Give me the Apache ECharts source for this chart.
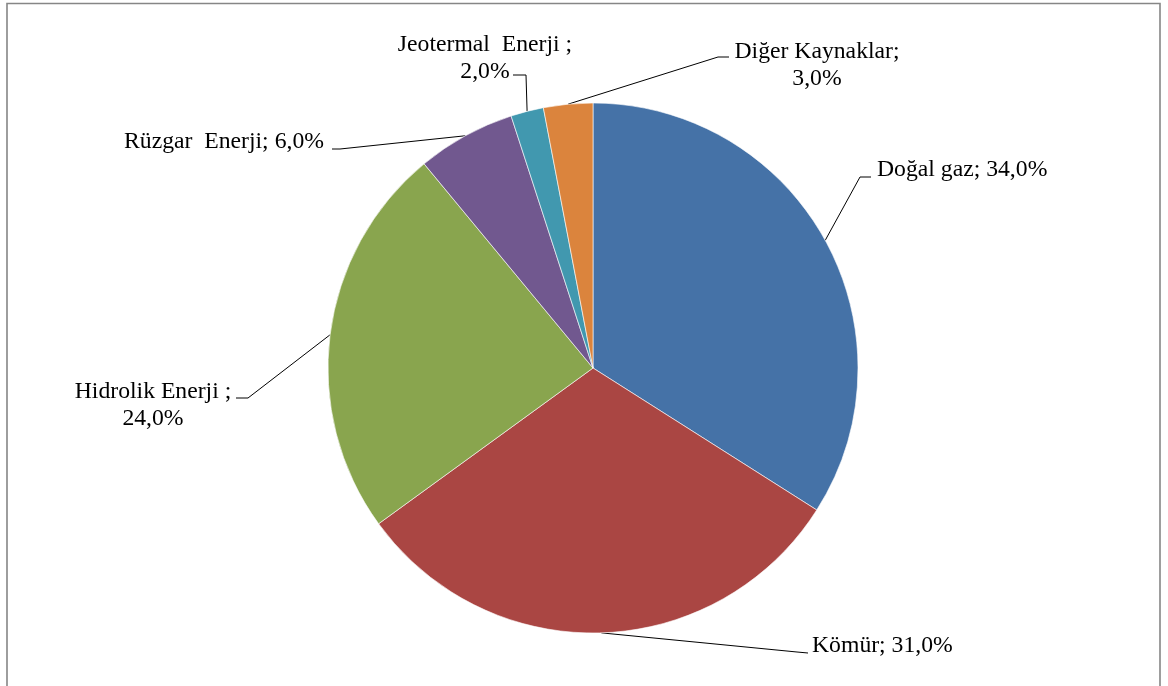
<!DOCTYPE html>
<html>
<head>
<meta charset="utf-8">
<script src="https://cdn.jsdelivr.net/npm/echarts@6/dist/echarts.min.js"></script>
<style>
  html, body { margin: 0; padding: 0; background: #ffffff; }
  #chart { width: 1168px; height: 686px; }
</style>
</head>
<body>
<div id="chart"></div>
<script>
// Electricity generation by source (share, %)
const categories = ['Doğal gaz', 'Kömür', 'Hidrolik Enerji ', 'Rüzgar  Enerji', 'Jeotermal  Enerji ', 'Diğer Kaynaklar'];
const values = [34.0, 31.0, 24.0, 6.0, 2.0, 3.0];
const separators = [' ', ' ', '\n', ' ', '\n', '\n'];
const colors = ['#4572A7', '#AA4643', '#89A54E', '#71588F', '#4198AF', '#DB843D'];

// Label anchor positions and leader-line elbows: [x, y, align, elbow, lineEnd]
const labelPlaces = [
  [877, 170, 'left',   [860, 177], [871, 177]],
  [812, 646, 'left',   [797, 652], [808, 653]],
  [153, 405, 'center', [248, 398], [236, 398]],
  [124, 142, 'left',   [340, 149], [332, 149]],
  [485, 58,  'center', [526, 75],  [513, 75]],
  [817, 65,  'center', [718, 57],  [729, 57]]
];

const fmt = v => v.toFixed(1).replace('.', ',') + '%';

const chart = echarts.init(document.getElementById('chart'), null, { renderer: 'canvas' });

chart.setOption({
  backgroundColor: '#ffffff',
  animation: false,
  graphic: [{
    type: 'rect',
    shape: { x: 7, y: 3.5, width: 1153, height: 720 },
    style: { fill: 'none', stroke: '#868686', lineWidth: 1.6 },
    silent: true,
    z: 0
  }],
  series: [{
    type: 'pie',
    center: [593, 368],
    radius: 265,
    startAngle: 90,
    clockwise: true,
    silent: true,
    data: categories.map((name, i) => ({
      name: name,
      value: values[i],
      itemStyle: { color: colors[i] }
    })),
    itemStyle: { borderColor: '#ffffff', borderWidth: 0.6 },
    label: {
      show: true,
      position: 'outside',
      fontFamily: '"Liberation Serif", "Times New Roman", serif',
      fontSize: 23.7,
      lineHeight: 27,
      color: '#000000',
      formatter: p => p.name + ';' + separators[p.dataIndex] + fmt(p.value)
    },
    labelLine: {
      show: true,
      length: 20,
      length2: 10,
      lineStyle: { color: '#000000', width: 1 }
    },
    labelLayout: function (params) {
      const lp = labelPlaces[params.dataIndex];
      const start = params.labelLinePoints ? params.labelLinePoints[0] : null;
      const out = {
        x: lp[0],
        y: lp[1],
        align: lp[2],
        verticalAlign: 'middle'
      };
      if (start) {
        out.labelLinePoints = [start, lp[3], lp[4]];
      }
      return out;
    }
  }]
});
</script>
</body>
</html>
